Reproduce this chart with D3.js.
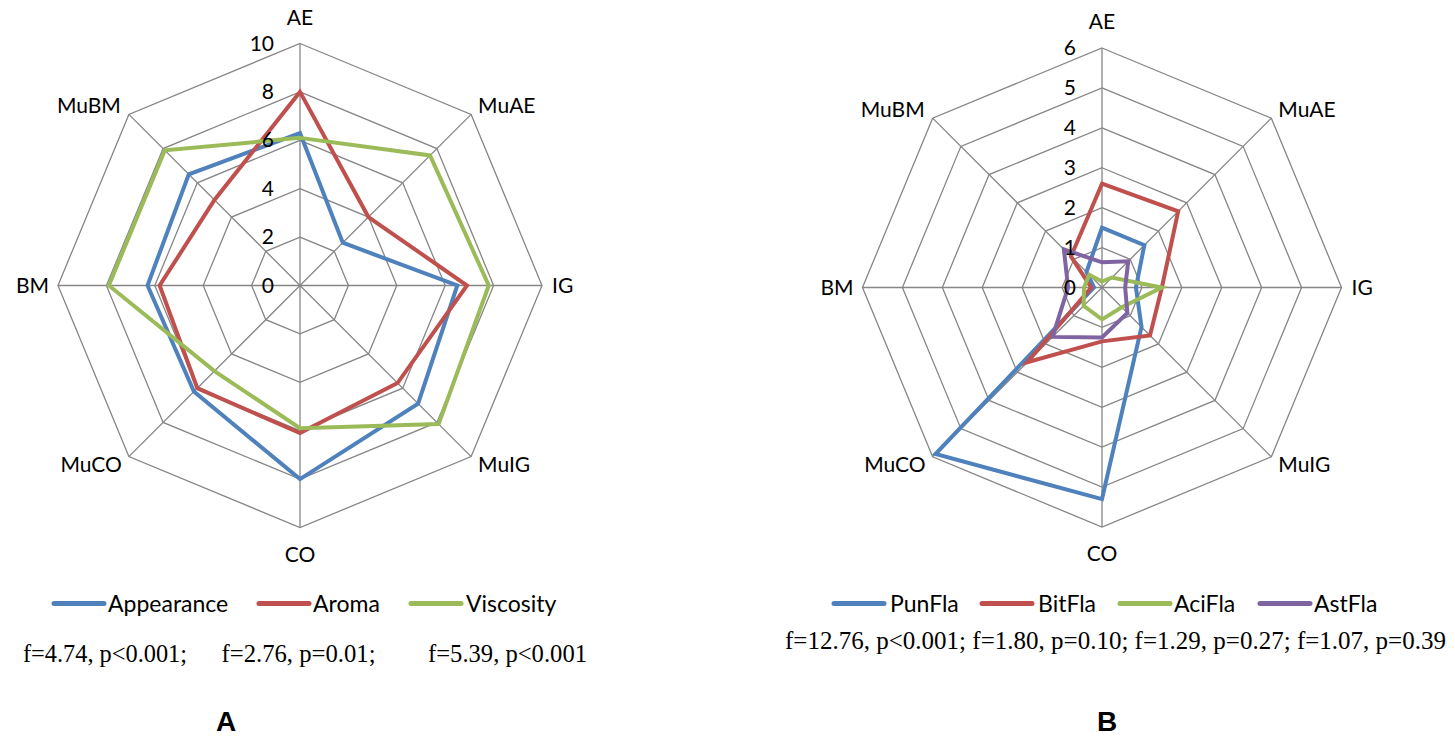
<!DOCTYPE html>
<html><head><meta charset="utf-8">
<script src="https://cdn.jsdelivr.net/npm/d3@7"></script>
<style>
html,body{margin:0;padding:0;background:#fff;}
svg{display:block;}
</style></head>
<body>
<svg id="chart" width="1455" height="737"></svg>
<script>
// ---- data ----
const categories = ["AE","MuAE","IG","MuIG","CO","MuCO","BM","MuBM"];

const seriesA = ["Appearance","Aroma","Viscosity"];
const appearance = [6.3, 2.5, 6.5, 6.9, 8.0, 6.2, 6.3, 6.5];
const aroma      = [8.0, 4.0, 6.9, 5.7, 6.1, 6.0, 5.8, 5.0];
const viscosity  = [6.1, 7.6, 7.8, 8.1, 5.9, 5.0, 7.9, 7.9];
const ticksA = [0, 2, 4, 6, 8, 10];
const statsA = ["f=4.74, p<0.001;", "f=2.76, p=0.01;", "f=5.39, p<0.001"];

const seriesB = ["PunFla","BitFla","AciFla","AstFla"];
const punFla = [1.5, 1.5, 0.85, 1.4, 5.3, 5.9, 0.2, 0.55];
const bitFla = [2.6, 2.7, 1.5, 1.7, 1.35, 2.65, 0.27, 1.1];
const aciFla = [0.15, 0.35, 1.5, 0.7, 0.8, 0.65, 0.45, 0.45];
const astFla = [0.63, 0.93, 0.58, 0.9, 1.25, 1.75, 0.85, 1.35];
const ticksB = [0, 1, 2, 3, 4, 5, 6];
const statsB = ["f=12.76, p<0.001; f=1.80, p=0.10; f=1.29, p=0.27; f=1.07, p=0.39"];

const colors = ["#4F81BD", "#C0504D", "#9BBB59", "#8064A2"];

const svg = d3.select("#chart");
const labelFont = "Lato, 'Open Sans', sans-serif";

function radar(opts) {
  const {cx, cy, R, ticks, data, names, legendX, legendTextX, legendY, stats, statsX, statsY, statsLen, title, titleX} = opts;
  const g = svg.append("g");
  const maxV = ticks[ticks.length - 1];
  const r = d3.scaleLinear().domain([0, maxV]).range([0, R]);
  const ang = d3.scalePoint().domain(categories).range([0, 2 * Math.PI * (categories.length - 1) / categories.length]);
  const pt = (c, v) => [cx + r(v) * Math.sin(ang(c)), cy - r(v) * Math.cos(ang(c))];

  // rings
  ticks.slice(1).forEach(t => {
    g.append("path")
      .attr("d", d3.line()(categories.map(c => pt(c, t))) + "Z")
      .attr("fill", "none").attr("stroke", "#868686").attr("stroke-width", 1.3);
  });
  // spokes
  categories.forEach(c => {
    const [x, y] = pt(c, maxV);
    g.append("line").attr("x1", cx).attr("y1", cy).attr("x2", x).attr("y2", y)
      .attr("stroke", "#868686").attr("stroke-width", 1.3);
  });
  // series
  const radial = d3.lineRadial().angle((d, i) => ang(categories[i])).radius(d => r(d)).curve(d3.curveLinearClosed);
  data.forEach((vals, i) => {
    g.append("path").attr("transform", `translate(${cx},${cy})`)
      .attr("d", radial(vals))
      .attr("fill", "none").attr("stroke", colors[i]).attr("stroke-width", 4)
      .attr("stroke-linejoin", "miter");
  });
  // tick labels
  ticks.forEach(t => {
    g.append("text").attr("x", cx - 26).attr("y", cy - r(t) + 7)
      .attr("text-anchor", "end").attr("font-family", labelFont).attr("font-size", 21)
      .attr("fill", "#000").text(t);
  });
  // category labels
  const place = {
    "AE":   {dx: 0,   dy: -19, a: "middle"},
    "MuAE": {dx: 7,   dy: -1,  a: "start"},
    "IG":   {dx: 10,  dy: 7,   a: "start"},
    "MuIG": {dx: 7,   dy: 15,  a: "start"},
    "CO":   {dx: 0,   dy: 34,  a: "middle"},
    "MuCO": {dx: -7,  dy: 15,  a: "end"},
    "BM":   {dx: -9,  dy: 7,   a: "end"},
    "MuBM": {dx: -8,  dy: -1,  a: "end"}
  };
  categories.forEach(c => {
    const [x, y] = pt(c, maxV);
    const p = place[c];
    g.append("text").attr("x", x + p.dx).attr("y", y + p.dy)
      .attr("text-anchor", p.a).attr("font-family", labelFont).attr("font-size", 21)
      .attr("fill", "#000").text(c);
  });
  // legend
  names.forEach((n, i) => {
    g.append("line").attr("x1", legendX[i]).attr("x2", legendX[i] + 50)
      .attr("y1", legendY).attr("y2", legendY)
      .attr("stroke", colors[i]).attr("stroke-width", 5).attr("stroke-linecap", "round");
    g.append("text").attr("x", legendTextX[i]).attr("y", legendY + 8)
      .attr("font-family", labelFont).attr("font-size", 23).attr("fill", "#000").text(n);
  });
  // stats
  stats.forEach((s, i) => {
    g.append("text").attr("x", statsX[i]).attr("y", statsY)
      .attr("font-family", "'Liberation Serif', 'Times New Roman', serif").attr("font-size", 25)
      .attr("textLength", statsLen[i]).attr("lengthAdjust", "spacingAndGlyphs")
      .attr("fill", "#000").text(s);
  });
  // title
  g.append("text").attr("x", titleX).attr("y", 731).attr("text-anchor", "middle")
    .attr("font-family", "'Liberation Sans', Arial, sans-serif").attr("font-weight", "bold")
    .attr("font-size", 28).attr("fill", "#000").text(title);
}

radar({
  cx: 300, cy: 285.5, R: 242, ticks: ticksA,
  data: [appearance, aroma, viscosity], names: seriesA,
  legendX: [54, 259, 411], legendTextX: [108, 313, 466], legendY: 603.5,
  stats: statsA, statsX: [23, 221.5, 428], statsY: 661.5, statsLen: [164, 154, 159],
  title: "A", titleX: 226
});
radar({
  cx: 1102, cy: 287.5, R: 239.5, ticks: ticksB,
  data: [punFla, bitFla, aciFla, astFla], names: seriesB,
  legendX: [834, 982, 1120, 1260], legendTextX: [890, 1038, 1174, 1314], legendY: 603.5,
  stats: statsB, statsX: [785], statsY: 648.5, statsLen: [661],
  title: "B", titleX: 1107
});
</script>
</body></html>
